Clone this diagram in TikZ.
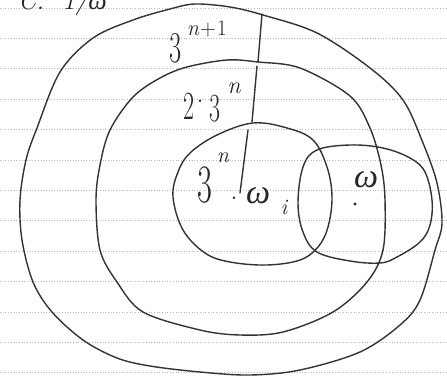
\documentclass[tikz,border=0pt]{standalone}
\usepackage{fontspec}
\newfontfamily\grk{Liberation Serif}
\usepackage{graphicx}
\begin{document}
\begin{tikzpicture}[x=1pt,y=-1pt,
  pen/.style={line width=1.4pt, draw=black!80, line cap=round, line join=round},
  ruled/.style={draw=gray!55, dotted, line width=0.7pt},
  lbl/.style={inner sep=0pt, text=black!85}]
\useasboundingbox[fill=white] (0,0) rectangle (447,383);
% ruled paper lines
\foreach \k in {0,...,12} {
  \draw[ruled] (0,{8+30.4*\k}) -- (447,{8+30.4*\k});
}
% outer curve
\draw[pen] plot[smooth cycle, tension=0.55] coordinates {
 (263,15) (317,33) (370,68) (403,100) (423,143) (437,183) (442,223) (435,250)
 (420,300) (400,325) (360,352) (300,370) (250,375) (200,372) (150,366)
 (117,358) (83,340) (52,312) (33,282) (22,240) (20,200) (26,160) (37,128)
 (60,72) (93,38) (133,20) (170,9) (195,4) (230,7)};
% second curve
\draw[pen] plot[smooth cycle, tension=0.55] coordinates {
 (258,62) (300,68) (350,96) (370,128) (381,165) (385,200) (383,250) (367,282)
 (333,312) (283,332) (240,335) (200,330) (143,312) (117,282) (100,250)
 (96,200) (100,165) (110,130) (133,97) (160,78) (187,67) (227,60)};
% left small oval
\draw[pen] plot[smooth cycle, tension=0.6] coordinates {
 (253,123) (287,128) (313,140) (327,167) (332,197) (328,227) (318,247)
 (300,260) (267,265) (230,262) (205,253) (183,230) (173,197) (178,172)
 (190,153) (217,135)};
% right small oval
\draw[pen] plot[smooth cycle, tension=0.6] coordinates {
 (298,203) (303,167) (317,150) (350,145) (383,148) (410,158) (425,172)
 (432,200) (430,225) (420,242) (397,257) (380,263) (350,261) (317,252)
 (303,232)};
% radius line
\coordinate (r0) at (262,14);
\coordinate (r1) at (258,62);
\coordinate (r2) at (257,66);
\coordinate (r3) at (252,122);
\coordinate (r4) at (248,130);
\coordinate (r5) at (240,193);
\draw[pen] (r0) -- (r1);
\draw[pen] (r2) -- (r3);
\draw[pen] (r4) -- (r5);
% header text (cut off)
\node[lbl, anchor=base west, font=\fontsize{26}{26}\selectfont] (hdr) at (18,9) {\itshape C.\ \ 1/{\grk ω}};
% outer label 3^{n+1}
\node[lbl, font=\fontsize{44}{44}\selectfont] (a3) at (176,48) {\scalebox{0.6}[1]{3}};
\node[lbl, font=\fontsize{22}{22}\selectfont] (an) at (207,29) {\itshape n\kern1pt\upshape+\kern1pt1};
% middle label 2.3^n
\node[lbl, font=\fontsize{40}{40}\selectfont] (b2) at (189,106) {\scalebox{0.6}[1]{2}};
\node[lbl, font=\fontsize{30}{30}\selectfont] (bd) at (200,101) {.};
\node[lbl, font=\fontsize{40}{40}\selectfont] (b3) at (215,109) {\scalebox{0.6}[1]{3}};
\node[lbl, font=\fontsize{24}{24}\selectfont] (bn) at (234,88) {\itshape n};
% inner label 3^n . omega_i
\node[lbl, font=\fontsize{54}{54}\selectfont] (c3) at (205,185) {\scalebox{0.6}[1]{3}};
\node[lbl, font=\fontsize{22}{22}\selectfont] (cn) at (223,158) {\itshape n};
\node[lbl, font=\fontsize{30}{30}\selectfont] (cd) at (234,198) {.};
\node[lbl, font=\fontsize{34}{34}\selectfont] (cw) at (258,196) {\grk\itshape ω};
\node[lbl, font=\fontsize{22}{22}\selectfont] (ci) at (284,207) {\itshape i};
% right oval label
\coordinate (dd) at (355,204);
\fill[black!85] (dd) circle (1.6pt);
\node[lbl, font=\fontsize{34}{34}\selectfont] (dw) at (366,180) {\grk\itshape ω};
\end{tikzpicture}
\end{document}
